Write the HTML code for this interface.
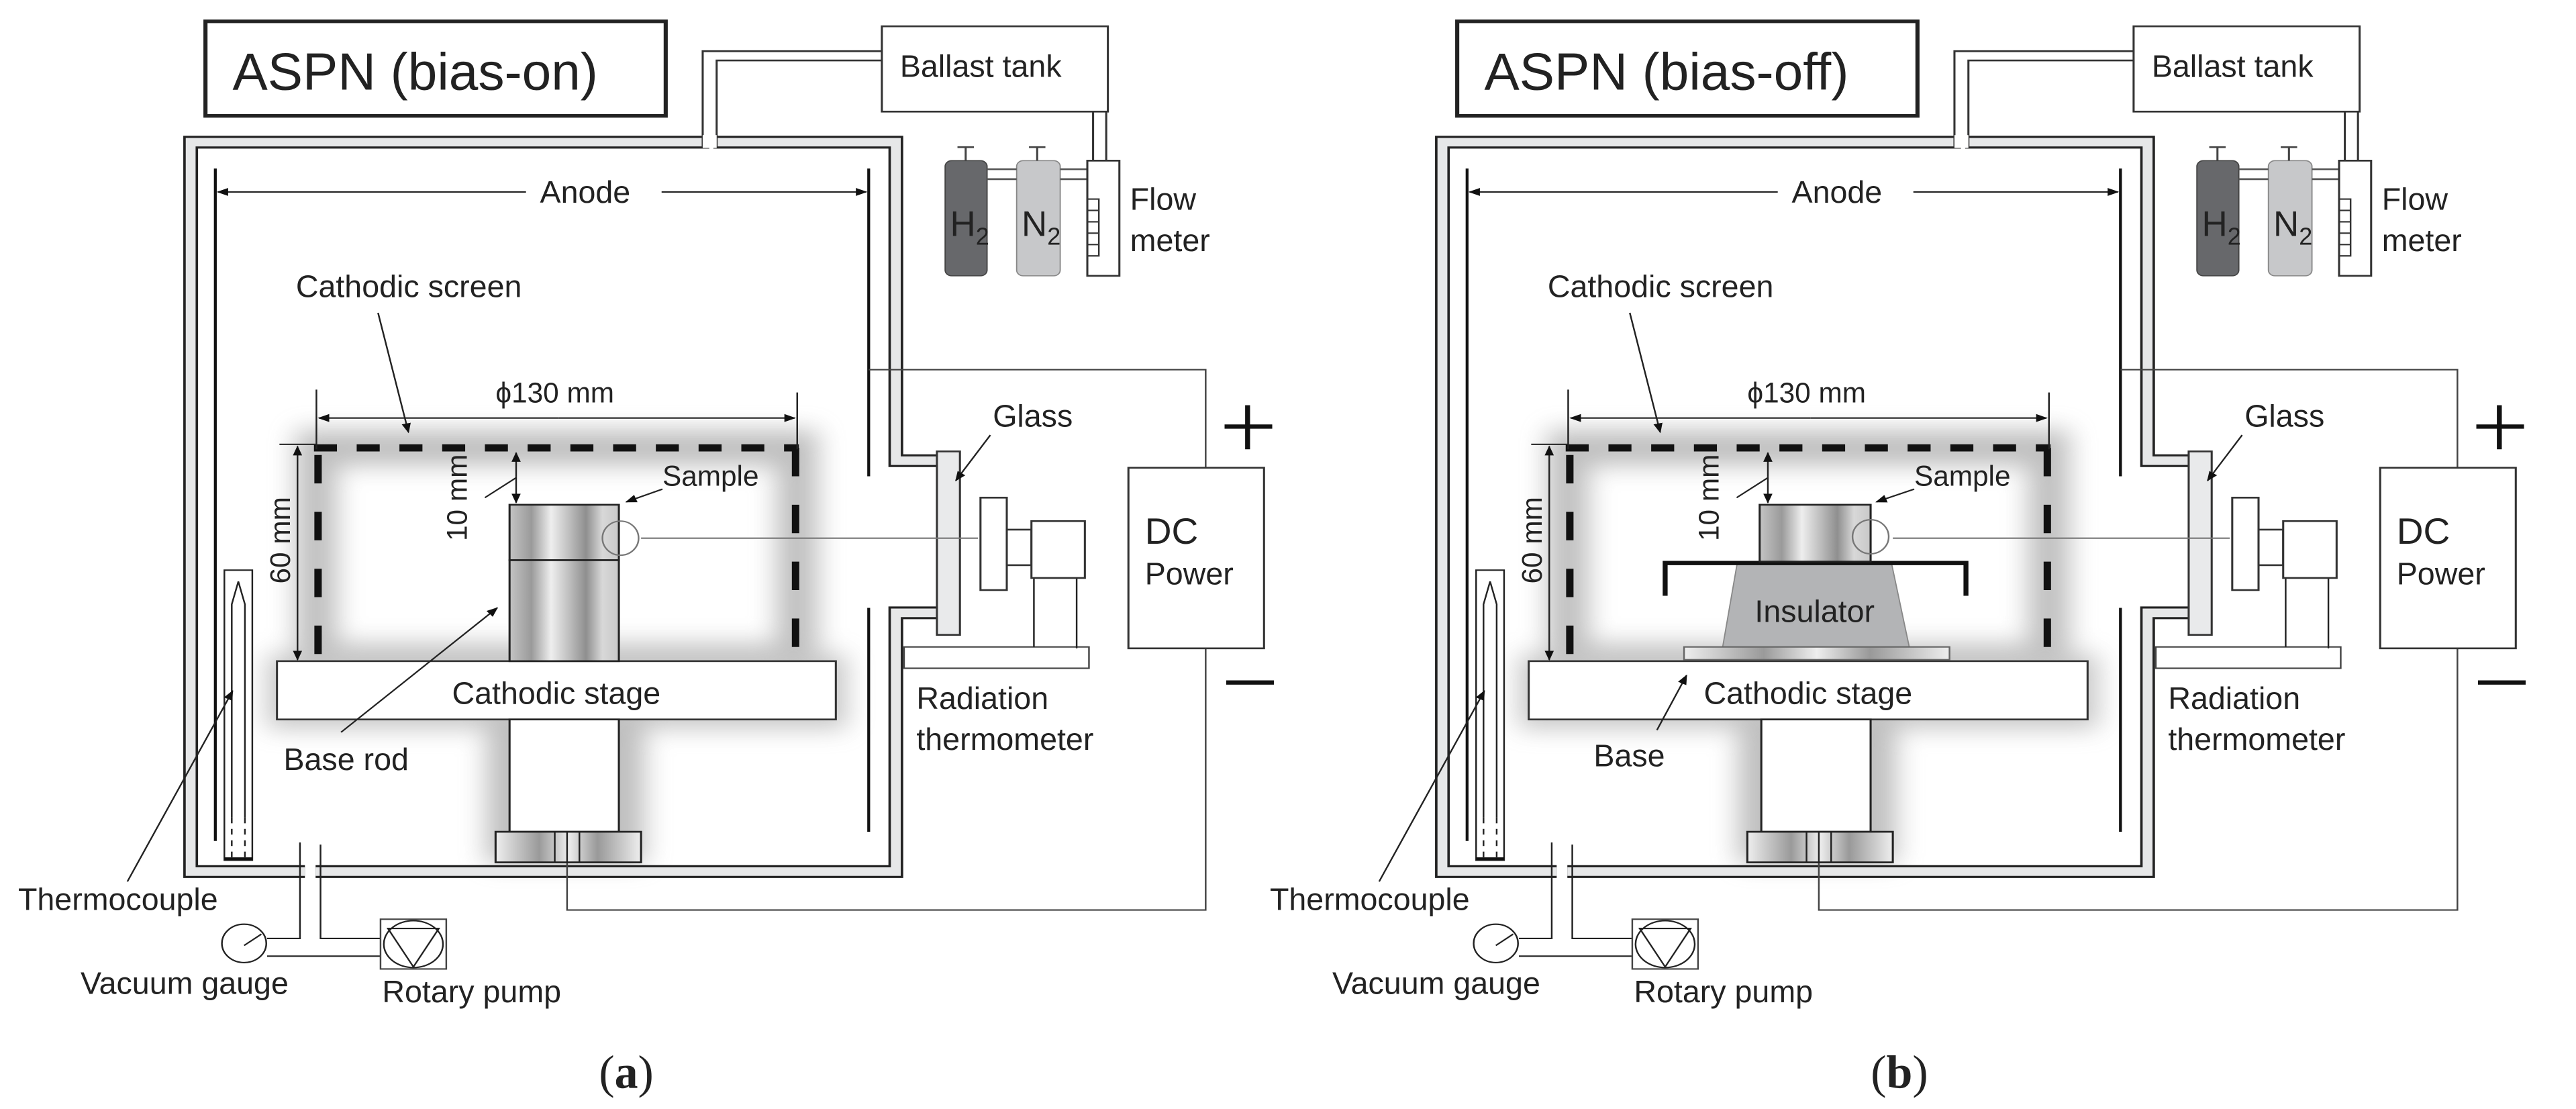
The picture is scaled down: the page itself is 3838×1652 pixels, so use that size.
<!DOCTYPE html>
<html><head><meta charset="utf-8"><style>
html,body{margin:0;padding:0;background:#fff;}
svg{display:block;}
text{font-family:"Liberation Sans",sans-serif;fill:#222;}
</style></head><body>
<svg width="3838" height="1652" viewBox="0 0 3838 1652" xmlns="http://www.w3.org/2000/svg">
<defs>
<filter id="bl" x="-30%" y="-30%" width="160%" height="160%"><feGaussianBlur stdDeviation="16"/></filter>
<linearGradient id="cyl" x1="0" x2="1" y1="0" y2="0">
<stop offset="0" stop-color="#c4c4c4"/><stop offset="0.2" stop-color="#9a9a9a"/><stop offset="0.38" stop-color="#eeeeee"/><stop offset="0.55" stop-color="#bdbdbd"/><stop offset="0.7" stop-color="#8f8f8f"/><stop offset="0.85" stop-color="#d8d8d8"/><stop offset="1" stop-color="#c8c8c8"/></linearGradient>
<linearGradient id="plate" x1="0" x2="1"><stop offset="0" stop-color="#eee"/><stop offset="0.3" stop-color="#9a9a9a"/><stop offset="0.5" stop-color="#eee"/><stop offset="0.7" stop-color="#999"/><stop offset="1" stop-color="#eee"/></linearGradient>
<marker id="ar" viewBox="0 0 10 10" refX="9" refY="5" markerWidth="14" markerHeight="14" markerUnits="userSpaceOnUse" orient="auto-start-reverse"><path d="M0,1 L10,5 L0,9 z" fill="#111"/></marker>
<g id="common">
 <g filter="url(#bl)" opacity="0.55">
  <rect x="385" y="630" width="585" height="300" fill="none" stroke="#8a8a8a" stroke-width="50"/>
  <rect x="325" y="920" width="705" height="105" fill="#9a9a9a"/>
  <rect x="592" y="1010" width="192" height="205" fill="#8a8a8a"/>
 </g>
 <g fill="none" stroke-linejoin="miter">
  <path d="M863,200 L232,200 L232,1226 L371,1226" stroke="#222" stroke-width="18"/>
  <path d="M863,200 L232,200 L232,1226 L371,1226" stroke="#e6e7e8" stroke-width="12"/>
  <path d="M384,1226 L1090,1226 L1090,862 L1140,862" stroke="#222" stroke-width="18"/>
  <path d="M384,1226 L1090,1226 L1090,862 L1140,862" stroke="#e6e7e8" stroke-width="12"/>
  <path d="M868,200 L1090,200 L1090,648 L1140,648" stroke="#222" stroke-width="18"/>
  <path d="M868,200 L1090,200 L1090,648 L1140,648" stroke="#e6e7e8" stroke-width="12"/>
  <path d="M855,207 L855,72 L1073,72 M872,207 L872,85 L1073,85" stroke="#333" stroke-width="2.5"/>
  <rect x="855" y="190" width="17" height="18" fill="#fff" stroke="none"/>
 </g>
 <rect x="1073" y="37" width="275" height="120" fill="#fff" stroke="#333" stroke-width="2.5"/>
 <path d="M1330,157 V225 M1346,157 V225" stroke="#333" stroke-width="2.5" fill="none"/>
 <rect x="1150" y="226" width="51" height="162" rx="8" fill="#67686b" stroke="#444" stroke-width="1.5"/>
 <rect x="1237" y="226" width="53" height="162" rx="8" fill="#c7c8ca" stroke="#888" stroke-width="1.5"/>
 <path d="M1175,226 V207 M1165,207 H1185 M1262,226 V207 M1252,207 H1272" stroke="#444" stroke-width="2.5"/>
 <path d="M1201,238 H1237 M1201,252 H1237 M1290,238 H1323 M1290,252 H1323" stroke="#555" stroke-width="2.5"/>
 <rect x="1323" y="226" width="39" height="162" fill="#fff" stroke="#333" stroke-width="2.5"/>
 <path d="M1323,280 H1337 V360 H1323 M1323,296 H1337 M1323,312 H1337 M1323,328 H1337 M1323,344 H1337" fill="none" stroke="#333" stroke-width="2"/>
 <path d="M262,237 V1183 M1057,237 V670 M1057,855 V1170" stroke="#111" stroke-width="3.5"/>
 <line x1="640" y1="270" x2="265" y2="270" stroke="#222" stroke-width="2" marker-end="url(#ar)"/>
 <line x1="805" y1="270" x2="1054" y2="270" stroke="#222" stroke-width="2" marker-end="url(#ar)"/>
 <path d="M1057,520 H1467 V658 M1467,912 V1280 H690 V1170" fill="none" stroke="#444" stroke-width="2"/>
 <rect x="1373" y="658" width="165" height="254" fill="#fff" stroke="#333" stroke-width="2.5"/>
 <path d="M1490,600 H1548 M1518,570 V632" stroke="#111" stroke-width="6"/>
 <path d="M1492,960 H1550" stroke="#111" stroke-width="6"/>
 <rect x="1140" y="635" width="28" height="258" fill="#e9eaeb" stroke="#333" stroke-width="2.5"/>
 <rect x="1100" y="910" width="225" height="30" fill="#fff" stroke="#444" stroke-width="2"/>
 <path d="M1258,812 V910 M1310,812 V912" stroke="#222" stroke-width="2"/>
 <rect x="1193" y="700" width="32" height="130" fill="#fff" stroke="#333" stroke-width="2.5"/>
 <rect x="1225" y="745" width="30" height="50" fill="#fff" stroke="#333" stroke-width="2.5"/>
 <rect x="1255" y="733" width="65" height="80" fill="#fff" stroke="#333" stroke-width="2.5"/>
 <line x1="1190" y1="757" x2="780" y2="757" stroke="#777" stroke-width="2"/>
 <path d="M382,630 H972" stroke="#111" stroke-width="10" stroke-dasharray="28,24"/>
 <path d="M387,640 V930 M968,630 V930" stroke="#111" stroke-width="9" stroke-dasharray="40,40"/>
 <rect x="337" y="930" width="680" height="82" fill="#fff" stroke="#333" stroke-width="2.5"/>
 <rect x="620" y="1012" width="133" height="158" fill="#fff" stroke="#222" stroke-width="2.5"/>
 <rect x="603" y="1170" width="177" height="43" fill="url(#plate)" stroke="#222" stroke-width="2.5"/>
 <path d="M675,1170 V1213 M690,1170 V1213 M705,1170 V1213" stroke="#222" stroke-width="2"/>
 <path d="M385,548 V632 M970,552 V632 M340,625 H385" stroke="#222" stroke-width="2"/>
 <line x1="680" y1="588" x2="388" y2="588" stroke="#222" stroke-width="2" marker-end="url(#ar)"/>
 <line x1="680" y1="588" x2="967" y2="588" stroke="#222" stroke-width="2" marker-end="url(#ar)"/>
 <line x1="362" y1="780" x2="362" y2="628" stroke="#222" stroke-width="2" marker-end="url(#ar)"/>
 <line x1="362" y1="780" x2="362" y2="928" stroke="#222" stroke-width="2" marker-end="url(#ar)"/>
 <line x1="628" y1="670" x2="628" y2="637" stroke="#222" stroke-width="2" marker-end="url(#ar)"/>
 <line x1="628" y1="670" x2="628" y2="707" stroke="#222" stroke-width="2" marker-end="url(#ar)"/>
 <line x1="590" y1="700" x2="628" y2="672" stroke="#222" stroke-width="2"/>
 <line x1="460" y1="440" x2="497" y2="608" stroke="#222" stroke-width="2" marker-end="url(#ar)"/>
 <line x1="1205" y1="612" x2="1163" y2="676" stroke="#222" stroke-width="2" marker-end="url(#ar)"/>
 <rect x="273" y="802" width="34" height="408" fill="#fff" stroke="#222" stroke-width="2"/>
 <path d="M282,1150 V850 L290,818 L298,850 V1150" fill="none" stroke="#222" stroke-width="2"/>
 <path d="M282,1150 V1208 M298,1150 V1208" stroke="#222" stroke-width="2" stroke-dasharray="8,8"/>
 <path d="M273,1208 H307" stroke="#111" stroke-width="4"/>
 <line x1="155" y1="1240" x2="283" y2="972" stroke="#222" stroke-width="2" marker-end="url(#ar)"/>
 <path d="M365,1185 V1320 H325 M390,1188 V1320 H463 M325,1345 H463" fill="none" stroke="#222" stroke-width="2"/>
 <circle cx="297" cy="1327" r="27" fill="#fff" stroke="#222" stroke-width="2"/>
 <path d="M297,1330 L318,1314" stroke="#222" stroke-width="2"/>
 <rect x="463" y="1293" width="80" height="70" fill="#fff" stroke="#444" stroke-width="2"/>
 <ellipse cx="503" cy="1328" rx="36" ry="33" fill="none" stroke="#222" stroke-width="2"/>
 <path d="M472,1306 H534 L503,1360 Z" fill="none" stroke="#222" stroke-width="2"/>
</g>
</defs>

<g transform="scale(1.2245,1.059)">
 <use href="#common"/>
 <rect x="620" y="710" width="133" height="78" fill="url(#cyl)" stroke="#222" stroke-width="2.5"/>
 <rect x="620" y="788" width="133" height="142" fill="url(#cyl)" stroke="#222" stroke-width="2.5"/>
 <ellipse cx="755" cy="757" rx="22" ry="24" fill="none" stroke="#777" stroke-width="2"/>
 <line x1="806" y1="688" x2="762" y2="706" stroke="#222" stroke-width="2" marker-end="url(#ar)"/>
 <line x1="415" y1="1030" x2="605" y2="855" stroke="#222" stroke-width="2" marker-end="url(#ar)"/>
 <rect x="250" y="30" width="560" height="133" fill="#fff" stroke="#222" stroke-width="5"/>
 <g font-size="74"><text transform="translate(283,126) scale(0.8648,1)">ASPN (bias-on)</text></g>
 <g font-size="44">
  <text transform="translate(1095,108) scale(0.8648,1)">Ballast tank</text>
  <text transform="translate(1375,295) scale(0.8648,1)">Flow</text>
  <text transform="translate(1375,353) scale(0.8648,1)">meter</text>
  <text transform="translate(657,285) scale(0.8648,1)">Anode</text>
  <text transform="translate(360,418) scale(0.8648,1)">Cathodic screen</text>
  <text transform="translate(1208,600) scale(0.8648,1)">Glass</text>
  <text transform="translate(550,990) scale(0.8648,1)">Cathodic stage</text>
  <text transform="translate(345,1083) scale(0.8648,1)">Base rod</text>
  <text transform="translate(1115,997) scale(0.8648,1)">Radiation</text>
  <text transform="translate(1115,1055) scale(0.8648,1)">thermometer</text>
  <text transform="translate(22,1280) scale(0.8648,1)">Thermocouple</text>
  <text transform="translate(98,1398) scale(0.8648,1)">Vacuum gauge</text>
  <text transform="translate(465,1410) scale(0.8648,1)">Rotary pump</text>
  <text transform="translate(1393,765) scale(0.8648,1)" font-size="52">DC</text>
  <text transform="translate(1393,822) scale(0.8648,1)">Power</text>
 </g>
 <g font-size="40">
  <text transform="translate(603,566) scale(0.8648,1)">ϕ130 mm</text>
  <text transform="translate(806,683) scale(0.8648,1)">Sample</text>
  <text transform="translate(353,760) rotate(-90) scale(1,0.8648)" text-anchor="middle">60 mm</text>
  <text transform="translate(568,700) rotate(-90) scale(1,0.8648)" text-anchor="middle">10 mm</text>
 </g>
 <g font-size="50">
  <text transform="translate(1156,332) scale(0.8648,1)" fill="#333">H<tspan font-size="34" dy="12">2</tspan></text>
  <text transform="translate(1243,332) scale(0.8648,1)" fill="#333">N<tspan font-size="34" dy="12">2</tspan></text>
 </g>
 <text transform="translate(762,1530) scale(0.8648,1)" text-anchor="middle" font-size="66" style="font-family:'Liberation Serif',serif">(<tspan font-weight="bold">a</tspan>)</text>
</g>

<g transform="translate(1865,0) scale(1.2245,1.059)">
 <use href="#common"/>
 <polygon points="591,790 778,790 800,910 573,910" fill="#b3b4b6" stroke="#888" stroke-width="1.5"/>
 <rect x="526" y="910" width="323" height="18" fill="url(#plate)" stroke="#666" stroke-width="2"/>
 <path d="M503,838 V792 H869 V838" fill="none" stroke="#111" stroke-width="6"/>
 <rect x="618" y="710" width="135" height="80" fill="url(#cyl)" stroke="#222" stroke-width="2.5"/>
 <ellipse cx="753" cy="755" rx="22" ry="24" fill="none" stroke="#777" stroke-width="2"/>
 <line x1="806" y1="688" x2="760" y2="706" stroke="#222" stroke-width="2" marker-end="url(#ar)"/>
 <line x1="493" y1="1027" x2="529" y2="950" stroke="#222" stroke-width="2" marker-end="url(#ar)"/>
 <rect x="250" y="30" width="560" height="133" fill="#fff" stroke="#222" stroke-width="5"/>
 <g font-size="74"><text transform="translate(283,126) scale(0.8648,1)">ASPN (bias-off)</text></g>
 <g font-size="44">
  <text transform="translate(1095,108) scale(0.8648,1)">Ballast tank</text>
  <text transform="translate(1375,295) scale(0.8648,1)">Flow</text>
  <text transform="translate(1375,353) scale(0.8648,1)">meter</text>
  <text transform="translate(657,285) scale(0.8648,1)">Anode</text>
  <text transform="translate(360,418) scale(0.8648,1)">Cathodic screen</text>
  <text transform="translate(1208,600) scale(0.8648,1)">Glass</text>
  <text transform="translate(550,990) scale(0.8648,1)">Cathodic stage</text>
  <text transform="translate(612,875) scale(0.8648,1)">Insulator</text>
  <text transform="translate(416,1078) scale(0.8648,1)">Base</text>
  <text transform="translate(1115,997) scale(0.8648,1)">Radiation</text>
  <text transform="translate(1115,1055) scale(0.8648,1)">thermometer</text>
  <text transform="translate(22,1280) scale(0.8648,1)">Thermocouple</text>
  <text transform="translate(98,1398) scale(0.8648,1)">Vacuum gauge</text>
  <text transform="translate(465,1410) scale(0.8648,1)">Rotary pump</text>
  <text transform="translate(1393,765) scale(0.8648,1)" font-size="52">DC</text>
  <text transform="translate(1393,822) scale(0.8648,1)">Power</text>
 </g>
 <g font-size="40">
  <text transform="translate(603,566) scale(0.8648,1)">ϕ130 mm</text>
  <text transform="translate(806,683) scale(0.8648,1)">Sample</text>
  <text transform="translate(353,760) rotate(-90) scale(1,0.8648)" text-anchor="middle">60 mm</text>
  <text transform="translate(568,700) rotate(-90) scale(1,0.8648)" text-anchor="middle">10 mm</text>
 </g>
 <g font-size="50">
  <text transform="translate(1156,332) scale(0.8648,1)" fill="#333">H<tspan font-size="34" dy="12">2</tspan></text>
  <text transform="translate(1243,332) scale(0.8648,1)" fill="#333">N<tspan font-size="34" dy="12">2</tspan></text>
 </g>
 <text transform="translate(788,1530) scale(0.8648,1)" text-anchor="middle" font-size="66" style="font-family:'Liberation Serif',serif">(<tspan font-weight="bold">b</tspan>)</text>
</g>
</svg>
</body></html>
